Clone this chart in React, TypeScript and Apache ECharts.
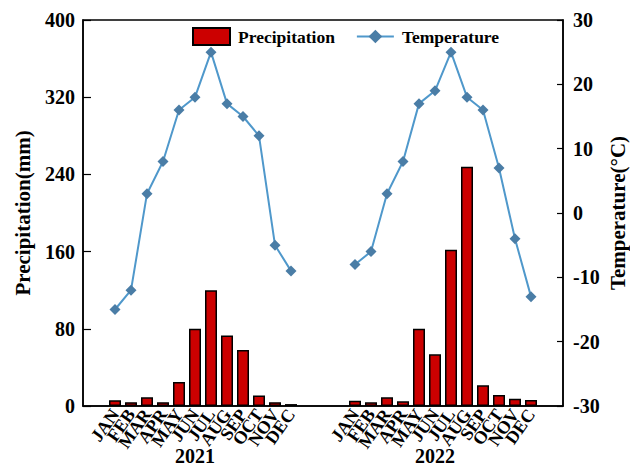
import React, { useEffect, useRef } from "react";
import * as echarts from "echarts";

const months = ["JAN", "FEB", "MAR", "APR", "MAY", "JUN", "JUL", "AUG", "SEP", "OCT", "NOV", "DEC"];
const years = ["2021", "2022"];
const precip2021 = [6, 4, 9, 4, 25, 80, 120, 73, 58, 11, 4, 2];
const precip2022 = [5.5, 3.8, 9, 4.8, 80, 53.5, 162, 248, 21.4, 11.4, 7.6, 6.2];
const temp2021 = [-15, -12, 3, 8, 16, 18, 25, 17, 15, 12, -5, -9];
const temp2022 = [-8, -6, 3, 8, 17, 19, 25, 18, 16, 7, -4, -13];
const precipTicks = { min: 0, max: 400, interval: 80 };
const tempTicks = { min: -30, max: 30, interval: 10 };

const FONT = "'Times New Roman', 'Liberation Serif', serif";

// layout of category slots: 2 blanks, 12 months, 3 blanks, 12 months, 2 blanks
const lead = 2;
const gap = 3;
const tail = 2;

function buildCategories() {
  const cats: string[] = [];
  const precip: (number | null)[] = [];
  const temp: (number | null)[] = [];
  const yearCenter: Record<number, string> = {};
  let g = 0;
  const pushGap = (n: number) => {
    for (let i = 0; i < n; i++) {
      cats.push(`gap${g++}`);
      precip.push(null);
      temp.push(null);
    }
  };
  const pData = [precip2021, precip2022];
  const tData = [temp2021, temp2022];
  pushGap(lead);
  years.forEach((y, yi) => {
    if (yi > 0) pushGap(gap);
    yearCenter[cats.length + 5] = y;
    months.forEach((m, mi) => {
      cats.push(`${y}-${m}`);
      precip.push(pData[yi][mi]);
      temp.push(tData[yi][mi]);
    });
  });
  pushGap(tail);
  return { cats, precip, temp, yearCenter };
}

export default function App() {
  const ref = useRef<HTMLDivElement>(null);
  useEffect(() => {
    if (!ref.current) return;
    const chart = echarts.init(ref.current, undefined, { renderer: "svg" });
    const { cats, precip, temp, yearCenter } = buildCategories();
    chart.setOption({
      animation: false,
      backgroundColor: "#fff",
      textStyle: { fontFamily: FONT },
      grid: {
        left: 83,
        right: 67,
        top: 20,
        bottom: 60,
        containLabel: false,
        outerBoundsMode: "none",
        show: true,
        borderColor: "#000",
        borderWidth: 1.5,
        backgroundColor: "transparent",
      },
      legend: {
        left: 192,
        top: 27,
        padding: 0,
        itemGap: 21,
        itemWidth: 37,
        itemHeight: 17,
        textStyle: {
          fontFamily: FONT,
          fontWeight: "bold",
          fontSize: 17.5,
          color: "#000",
          padding: [0, 0, 0, 3],
        },
        data: [{ name: "Precipitation", icon: "rect" }, { name: "Temperature" }],
      },
      xAxis: [
        {
          type: "category",
          data: cats,
          boundaryGap: false,
          axisLine: { show: true, lineStyle: { color: "#000", width: 1.5 } },
          axisTick: { show: false },
          axisLabel: {
            interval: 0,
            rotate: 55,
            margin: 5,
            color: "#000",
            fontFamily: FONT,
            fontWeight: "bold",
            fontSize: 18,
            formatter: (v: string) => (v.startsWith("gap") ? "" : v.split("-")[1]),
          },
          splitLine: { show: false },
        },
        {
          type: "category",
          data: cats,
          boundaryGap: false,
          position: "bottom",
          offset: 32,
          axisLine: { show: false },
          axisTick: { show: false },
          axisLabel: {
            interval: 0,
            margin: 8,
            color: "#000",
            fontFamily: FONT,
            fontWeight: "bold",
            fontSize: 20,
            lineHeight: 20,
            formatter: (_v: string, i: number) => yearCenter[i] || "",
          },
          splitLine: { show: false },
        },
      ],
      yAxis: [
        {
          type: "value",
          ...precipTicks,
          position: "left",
          name: "Precipitation(mm)",
          nameLocation: "middle",
          nameRotate: 90,
          nameGap: 50,
          nameMoveOverlap: false,
          nameTextStyle: { fontFamily: FONT, fontWeight: "bold", fontSize: 21, color: "#000" },
          axisLine: { show: true, lineStyle: { color: "#000", width: 1.5 } },
          axisTick: { show: true, inside: true, length: 8, lineStyle: { color: "#000", width: 1.2 } },
          axisLabel: { color: "#000", fontFamily: FONT, fontWeight: "bold", fontSize: 20, margin: 8 },
          splitLine: { show: false },
        },
        {
          type: "value",
          ...tempTicks,
          position: "right",
          name: "Temperature(°C)",
          nameLocation: "middle",
          nameRotate: 90,
          nameGap: 44,
          nameMoveOverlap: false,
          nameTextStyle: { fontFamily: FONT, fontWeight: "bold", fontSize: 21, lineHeight: 21, color: "#000" },
          axisLine: { show: true, lineStyle: { color: "#000", width: 1.5 } },
          axisTick: { show: true, inside: true, length: 6, lineStyle: { color: "#000", width: 1.2 } },
          axisLabel: { color: "#000", fontFamily: FONT, fontWeight: "bold", fontSize: 20, margin: 10 },
          splitLine: { show: false },
        },
      ],
      series: [
        {
          name: "Precipitation",
          type: "bar",
          xAxisIndex: 0,
          yAxisIndex: 0,
          data: precip,
          barWidth: 12,
          itemStyle: { color: "#CC0000", borderColor: "#000", borderWidth: 1.5 },
        },
        {
          name: "Temperature",
          type: "line",
          xAxisIndex: 0,
          yAxisIndex: 1,
          data: temp,
          connectNulls: false,
          symbol: "diamond",
          symbolSize: 11,
          lineStyle: { color: "#4F98CB", width: 2 },
          itemStyle: { color: "#4A7DA6" },
        },
      ],
    });
    return () => chart.dispose();
  }, []);
  return <div ref={ref} style={{ position: "fixed", left: 0, top: 0, width: 630, height: 466 }} />;
}
